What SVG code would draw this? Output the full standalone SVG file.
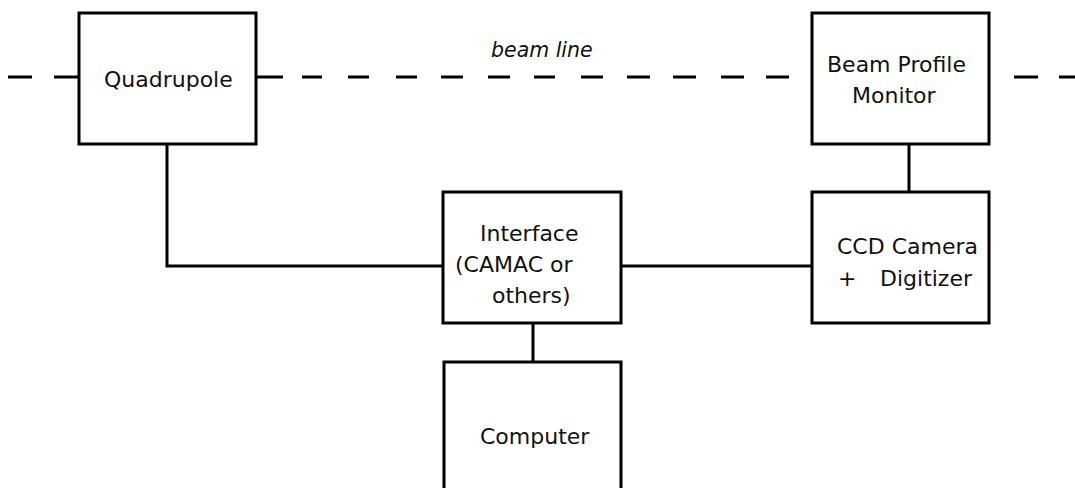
<svg xmlns="http://www.w3.org/2000/svg" width="1075" height="488" viewBox="0 0 1075 488">
  <style>
    .box { fill: #ffffff; stroke: #000000; stroke-width: 3; }
    .wire { fill: none; stroke: #000000; stroke-width: 3; }
    .beam { fill: none; stroke: #000000; stroke-width: 3; }
    .lbl { font-family: "DejaVu Sans", Verdana, sans-serif; font-size: 22px; fill: #111111; }
    .note { font-family: "DejaVu Sans", Verdana, sans-serif; font-size: 20.5px; font-style: italic; fill: #111111; }
  </style>

  <!-- dashed beam line -->
  <g id="beamline">
    <path class="beam" d="M8 77H32 M54 77H79 M256 77H283 M302 77H322 M348 77H369 M396 77H417 M441 77H463 M488 77H510 M534 77H555 M581 77H603 M627 77H650 M673 77H696 M721 77H744 M766 77H789 M1014 77H1038 M1059 77H1075"/>
    <text class="note" x="491" y="57">beam line</text>
  </g>

  <!-- connectors -->
  <g id="connectors">
    <path class="wire" d="M167 144V266H443"/>
    <path class="wire" d="M621 266H812"/>
    <path class="wire" d="M909 144V192"/>
    <path class="wire" d="M533 323V362"/>
  </g>

  <g id="quadrupole">
    <rect class="box" x="79" y="13" width="177" height="131"/>
    <text class="lbl" x="104" y="87">Quadrupole</text>
  </g>

  <g id="beam-profile-monitor">
    <rect class="box" x="812" y="13" width="177" height="131"/>
    <text class="lbl" x="827" y="72">Beam Profile</text>
    <text class="lbl" x="852" y="103">Monitor</text>
  </g>

  <g id="interface">
    <rect class="box" x="443" y="192" width="178" height="131"/>
    <text class="lbl" x="480" y="241">Interface</text>
    <text class="lbl" x="455" y="272">(CAMAC or</text>
    <text class="lbl" x="492" y="303">others)</text>
  </g>

  <g id="ccd-camera">
    <rect class="box" x="812" y="192" width="177" height="131"/>
    <text class="lbl" x="837" y="254">CCD Camera</text>
    <text class="lbl" x="838" y="286">+</text>
    <text class="lbl" x="880" y="286">Digitizer</text>
  </g>

  <g id="computer">
    <rect class="box" x="444" y="362" width="177" height="140"/>
    <text class="lbl" x="480" y="444">Computer</text>
  </g>
</svg>
